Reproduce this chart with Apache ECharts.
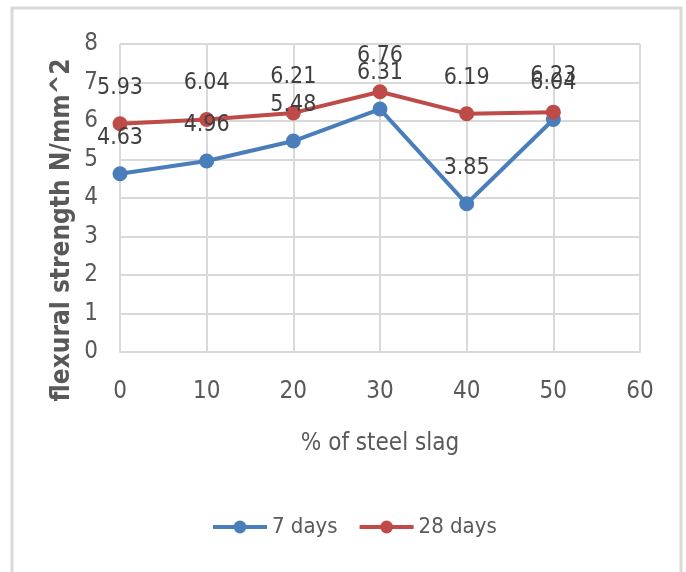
<!DOCTYPE html>
<html>
<head>
<meta charset="utf-8">
<script src="https://cdn.jsdelivr.net/npm/echarts@6/dist/echarts.min.js"></script>
<style>
  html, body { margin: 0; padding: 0; background: #fff; }
  #main { width: 686px; height: 572px; }
</style>
</head>
<body>
<div id="main"></div>
<script>
var slag = [0, 10, 20, 30, 40, 50];
var days7 = [4.63, 4.96, 5.48, 6.31, 3.85, 6.04];
var days28 = [5.93, 6.04, 6.21, 6.76, 6.19, 6.23];
var seriesNames = ['7 days', '28 days'];

var font = '"DejaVu Sans Condensed", "Liberation Sans Narrow", sans-serif';
var txt = '#595959';

function pairs(xs, ys) {
    var out = [];
    for (var i = 0; i < xs.length; i++) out.push([xs[i], ys[i]]);
    return out;
}

var chart = echarts.init(document.getElementById('main'));

var lineSeries = function (name, vals, color) {
    return {
        name: name,
        type: 'line',
        data: pairs(slag, vals),
        symbol: 'circle',
        symbolSize: 15,
        lineStyle: { color: color, width: 4 },
        itemStyle: { color: color },
        label: {
            show: true,
            position: 'top',
            distance: 17,
            fontFamily: font,
            fontSize: 23,
            color: '#404040'
        }
    };
};

chart.setOption({
    animation: false,
    backgroundColor: '#fff',
    grid: { left: 120, right: 46, top: 44, bottom: 220 },
    xAxis: {
        type: 'value',
        min: 0, max: 60, interval: 10,
        name: '% of steel slag',
        nameLocation: 'middle',
        nameGap: 80,
        nameTextStyle: { fontFamily: font, fontSize: 24, color: txt },
        axisLine: { show: true, lineStyle: { color: '#d9d9d9', width: 2 } },
        axisTick: { show: false },
        axisLabel: { margin: 28, fontFamily: font, fontSize: 24, color: txt },
        splitLine: { show: true, lineStyle: { color: '#d9d9d9', width: 2 } }
    },
    yAxis: {
        type: 'value',
        min: 0, max: 8, interval: 1,
        axisLine: { show: false },
        axisTick: { show: false },
        axisLabel: { margin: 22, fontFamily: font, fontSize: 24, color: txt },
        splitLine: { show: true, lineStyle: { color: '#d9d9d9', width: 2 } }
    },
    legend: {
        bottom: 29,
        left: 206,
        data: seriesNames,
        itemWidth: 54,
        itemHeight: 16,
        itemGap: 20,
        lineStyle: { width: 4 },
        textStyle: { fontFamily: font, fontSize: 22, color: txt }
    },
    graphic: [
        {
            type: 'rect',
            shape: { x: 12, y: 8, width: 669, height: 580 },
            style: { fill: 'none', stroke: '#d9d9d9', lineWidth: 3 },
            silent: true
        },
        {
            type: 'text',
            x: 62, y: 230,
            rotation: Math.PI / 2,
            style: {
                text: 'flexural strength N/mm^2',
                fontFamily: font,
                fontSize: 26,
                fontWeight: 'bold',
                fill: txt,
                align: 'center',
                verticalAlign: 'middle'
            }
        }
    ],
    series: [
        lineSeries(seriesNames[0], days7, '#4a7ebb'),
        lineSeries(seriesNames[1], days28, '#be4b48')
    ]
});
</script>
</body>
</html>
